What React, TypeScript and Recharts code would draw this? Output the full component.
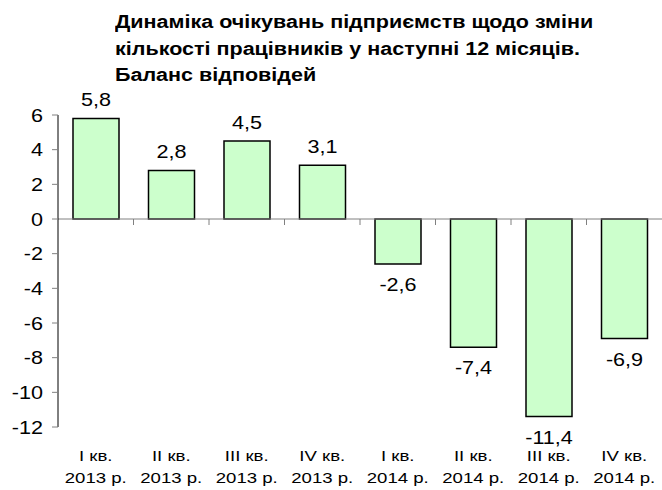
import { BarChart, Bar, XAxis, YAxis, ReferenceLine, LabelList } from 'recharts';

// Динаміка очікувань щодо зміни кількості працівників, баланс відповідей
const quarters = ['I кв.', 'II кв.', 'III кв.', 'IV кв.', 'I кв.', 'II кв.', 'III кв.', 'IV кв.'];
const years = ['2013 р.', '2013 р.', '2013 р.', '2013 р.', '2014 р.', '2014 р.', '2014 р.', '2014 р.'];
const balance = [5.8, 2.8, 4.5, 3.1, -2.6, -7.4, -11.4, -6.9];
const yTicks = [-12, -10, -8, -6, -4, -2, 0, 2, 4, 6];

const titleLines = [
  'Динаміка очікувань підприємств щодо зміни',
  'кількості працівників у наступні 12 місяців.',
  'Баланс відповідей',
];

const FONT = '"Liberation Sans", Arial, sans-serif';
// текст в оригіналі трохи розтягнутий по горизонталі
const STRETCH = 1.2;

const data = balance.map((v, i) => ({ key: i, value: v }));

const fmt = (v: number) => v.toFixed(1).replace('.', ',');

function Txt({ x, y, size, anchor = 'middle', children }: any) {
  return (
    <text
      transform={`translate(${x},${y}) scale(${STRETCH},1)`}
      textAnchor={anchor}
      fontSize={size}
      fontFamily={FONT}
      fill="#000"
    >
      {children}
    </text>
  );
}

function CategoryTick({ x, y, payload }: any) {
  const i = payload.index;
  return (
    <g>
      <Txt x={x} y={y + 26} size={15.5}>{quarters[i]}</Txt>
      <Txt x={x} y={y + 48} size={15.5}>{years[i]}</Txt>
    </g>
  );
}

function ValueTick({ x, y, payload }: any) {
  return (
    <Txt x={x} y={y + 6.5} size={18} anchor="end">
      {String(payload.value)}
    </Txt>
  );
}

function ValueLabel({ x, y, width, height, value }: any) {
  const top = Math.min(y, y + height);
  const bottom = Math.max(y, y + height);
  const cx = x + width / 2;
  const ty = value >= 0 ? top - 12 : bottom + 27;
  return (
    <Txt x={cx} y={ty} size={18}>
      {fmt(value)}
    </Txt>
  );
}

// риски на нульовій лінії між категоріями
function ZeroTicks({ viewBox }: any) {
  if (!viewBox) return null;
  const step = viewBox.width / balance.length;
  const marks = [];
  for (let k = 1; k < balance.length; k++) {
    const px = viewBox.x + step * k;
    marks.push(<line key={k} x1={px} x2={px} y1={viewBox.y} y2={viewBox.y + 6} stroke="#808080" />);
  }
  return <g>{marks}</g>;
}

export default function App() {
  return (
    <div style={{ position: 'absolute', left: 0, top: 0, width: 662, height: 490, background: '#fff' }}>
      <div
        style={{
          position: 'absolute',
          left: 115,
          top: 9,
          fontFamily: FONT,
          fontWeight: 'bold',
          fontSize: 17.5,
          lineHeight: '26.7px',
          color: '#000',
          whiteSpace: 'nowrap',
          transform: 'scaleX(1.23)',
          transformOrigin: 'left top',
        }}
      >
        {titleLines.map((t) => (
          <div key={t}>{t}</div>
        ))}
      </div>
      <BarChart
        width={662}
        height={490}
        data={data}
        margin={{ top: 115, right: 0, bottom: 0, left: 0 }}
      >
        <YAxis
          type="number"
          domain={[-12, 6]}
          ticks={yTicks}
          interval={0}
          width={58}
          tickSize={6}
          tickMargin={9}
          axisLine={{ stroke: '#000' }}
          tickLine={{ stroke: '#808080' }}
          tick={<ValueTick />}
        />
        <XAxis
          dataKey="key"
          height={63}
          axisLine={false}
          tickLine={false}
          interval={0}
          tick={<CategoryTick />}
        />
        <ReferenceLine y={0} stroke="#808080" label={<ZeroTicks />} />
        <Bar dataKey="value" fill="#CCFFCC" stroke="#000" strokeWidth={1.5} barSize={46} isAnimationActive={false}>
          <LabelList dataKey="value" content={<ValueLabel />} />
        </Bar>
      </BarChart>
    </div>
  );
}
